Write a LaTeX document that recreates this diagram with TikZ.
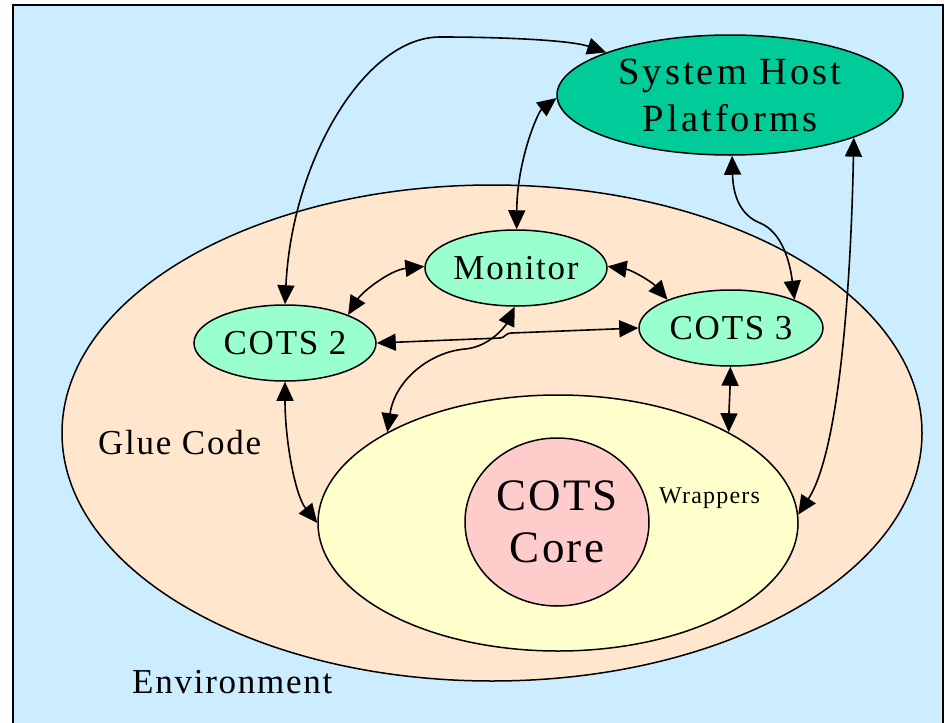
\documentclass[tikz,border=0pt]{standalone}
\usepackage{fontspec}
\setmainfont{Liberation Serif}[LetterSpace=5]
\usetikzlibrary{shapes.geometric,arrows.meta}
\definecolor{envblue}{HTML}{CCECFF}
\definecolor{peach}{HTML}{FFE6CC}
\definecolor{wrapyellow}{HTML}{FFFFCC}
\definecolor{corepink}{HTML}{FFCCCC}
\definecolor{mint}{HTML}{99FFCC}
\definecolor{shpgreen}{HTML}{00CC99}
\begin{document}
\begin{tikzpicture}[x=1pt,y=-1pt,
  blob/.style={ellipse, draw, line width=1.5pt, inner sep=0pt},
  comp/.style={blob, fill=mint, minimum width=182pt, minimum height=76pt, font=\fontsize{35}{42}\selectfont},
  conn/.style={line width=1.6pt, {Triangle[length=19pt,width=17pt]}-{Triangle[length=19pt,width=17pt]}},
  lbl/.style={inner sep=0pt, anchor=base west}]
\useasboundingbox (0,0) rectangle (948,723);
\fill[white] (0,0) rectangle (948,723);
\begin{scope}
\clip (0,0) rectangle (948,723);
\draw[fill=envblue, line width=2pt] (13,5) rectangle (943,760);
\end{scope}
% containers
\node[blob, fill=peach, minimum width=860pt, minimum height=496pt] (glue) at (492,433) {};
\node[blob, fill=wrapyellow, minimum width=480pt, minimum height=256pt] (wrap) at (558,523) {};
\node[blob, fill=corepink, minimum width=184pt, minimum height=168pt, align=center, font=\fontsize{45}{52}\selectfont] (core) at (557,522) {COTS\\Core};
% labels
\node[lbl, font=\fontsize{35}{42}\selectfont] (gluelbl) at (98,454) {Glue Code};
\node[lbl, font=\fontsize{35}{42}\selectfont] (envlbl) at (132,693) {Environment};
\node[lbl, font=\fontsize{24}{28}\selectfont] (wraplbl) at (659,503) {Wrappers};
% components
\node[blob, fill=shpgreen, minimum width=346pt, minimum height=120pt, align=center, font=\fontsize{38.5}{47}\selectfont\addfontfeatures{LetterSpace=8}] (shp) at (730,95) {System Host\\Platforms};
\node[comp] (monitor) at (516,268) {Monitor};
\node[comp] (cots2) at (285,343) {COTS 2};
\node[comp, minimum width=184pt] (cots3) at (731,328) {COTS 3};
% connectors
\draw[conn] (cots2.90) .. controls (292,160) and (365,37) .. (440,37) .. controls (500,37) and (570,40) .. (shp.161);
\draw[conn] (monitor.89) .. controls (517,160) and (538,112) .. (shp.181);
\draw[conn] (shp.272) .. controls (733,195) and (740,215) .. (760,223) .. controls (782,232) and (790,262) .. (cots3.24);
\draw[conn] (shp.341) .. controls (851,280) and (840,450) .. (wrap.2);
\draw[conn] (cots2.24) .. controls (362,292) and (390,270) .. (monitor.179);
\draw[conn] (monitor.1) .. controls (632,270) and (652,282) .. (cots3.156);
\draw[conn] (cots2.0) -- (500,338) .. controls (505,338) and (505,333) .. (512,333) -- (cots3.180);
\draw[conn] (monitor.268) .. controls (506,325) and (490,347) .. (465,349) .. controls (430,352) and (395,380) .. (wrap.152);
\draw[conn] (cots3.269) .. controls (730,390) and (729,410) .. (wrap.28);
\draw[conn] (cots2.270) .. controls (285,440) and (295,495) .. (wrap.180);
\end{tikzpicture}
\end{document}
